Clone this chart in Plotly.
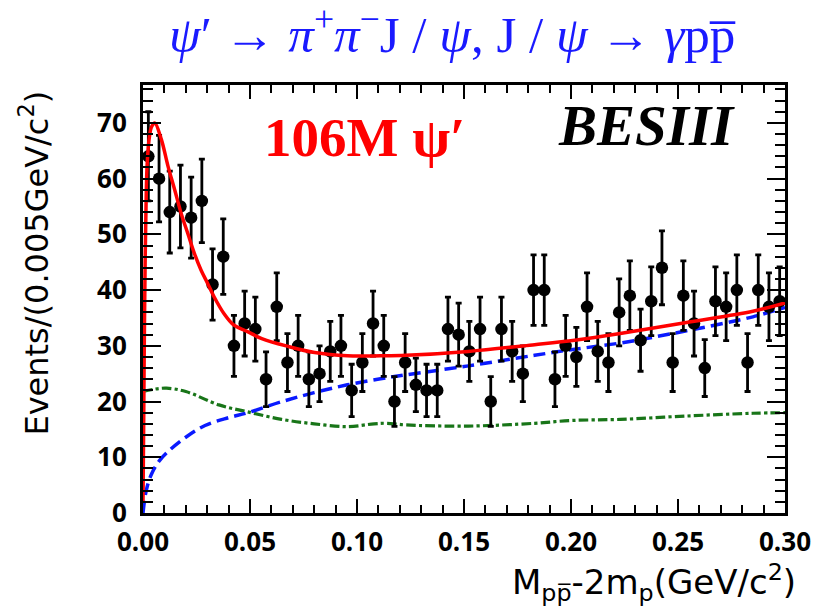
import numpy as np
import plotly.graph_objects as go

# Histogram: bin centres (GeV/c^2) and event counts per 0.005 GeV/c^2
bin_centers = [0.0025, 0.0075, 0.0125, 0.0175, 0.0225, 0.0275, 0.0325, 0.0375, 0.0425, 0.0475,
               0.0525, 0.0575, 0.0625, 0.0675, 0.0725, 0.0775, 0.0825, 0.0875, 0.0925, 0.0975,
               0.1025, 0.1075, 0.1125, 0.1175, 0.1225, 0.1275, 0.1325, 0.1375, 0.1425, 0.1475,
               0.1525, 0.1575, 0.1625, 0.1675, 0.1725, 0.1775, 0.1825, 0.1875, 0.1925, 0.1975,
               0.2025, 0.2075, 0.2125, 0.2175, 0.2225, 0.2275, 0.2325, 0.2375, 0.2425, 0.2475,
               0.2525, 0.2575, 0.2625, 0.2675, 0.2725, 0.2775, 0.2825, 0.2875, 0.2925, 0.2975]
counts = [64, 60, 54, 55, 53, 56, 41, 46, 30, 34,
          33, 24, 37, 27, 30, 24, 25, 29, 30, 22,
          27, 34, 30, 20, 27, 23, 22, 22, 33, 32,
          29, 33, 20, 33, 29, 25, 40, 40, 24, 30,
          28, 37, 29, 27, 36, 39, 31, 38, 44, 27,
          39, 34, 26, 38, 37, 40, 27, 40, 37, 38]

# Total fit (red)
fit_x = [0, 0.0003, 0.0006, 0.001, 0.0015, 0.002, 0.003, 0.004, 0.0055, 0.0086, 0.0117,
         0.0148, 0.0178, 0.0209, 0.024, 0.0271, 0.0302, 0.0332, 0.0378, 0.0425, 0.0486,
         0.0555, 0.0678, 0.0802, 0.0955, 0.111, 0.123, 0.152, 0.183, 0.2017, 0.223,
         0.254, 0.285, 0.30]
fit_y = [2, 15, 30, 45, 57, 63, 67.5, 69.3, 70, 67, 62.2,
         58, 53.8, 50.2, 46.6, 43.6, 41.2, 38.8, 35.8, 33.7, 32.6,
         31.3, 29.9, 28.8, 28.2, 28.2, 28.3, 29.0, 30.2, 31.0, 32.2,
         34.2, 36.2, 37.7]

# Phase-space-like background (blue dashed)
bkg_x = [0, 0.001, 0.002, 0.004, 0.0075, 0.0125, 0.02, 0.029, 0.04, 0.049, 0.065,
         0.08, 0.0955, 0.111, 0.123, 0.152, 0.183, 0.2, 0.223, 0.254, 0.285, 0.30]
bkg_y = [0, 3, 4.8, 7, 9.3, 11.3, 13.6, 15.7, 17.1, 18, 20,
         21.6, 23, 24.1, 24.8, 26.4, 28.3, 29.3, 30.5, 32.7, 35.2, 36.9]

# Other background component (green dash-dot)
oth_x = [0, 0.005, 0.011, 0.02, 0.0355, 0.0494, 0.0648, 0.08, 0.0955, 0.108, 0.114,
         0.123, 0.152, 0.183, 0.2, 0.223, 0.254, 0.285, 0.30]
oth_y = [21.8, 22.2, 22.4, 21.8, 19.4, 18.1, 16.8, 16.0, 15.5, 16.0, 16.1,
         15.8, 15.6, 16.1, 16.6, 16.8, 17.4, 17.9, 18.0]

x_ticks = [0.0, 0.05, 0.10, 0.15, 0.20, 0.25, 0.30]
x_tick_text = ["0.00", "0.05", "0.10", "0.15", "0.20", "0.25", "0.30"]
y_ticks = [0, 10, 20, 30, 40, 50, 60, 70]

fig = go.Figure()

fig.add_trace(go.Scatter(x=oth_x, y=oth_y, mode="lines", line_shape="spline",
                         line=dict(color="#187518", width=3.2, dash="dashdot"),
                         hoverinfo="skip"))
fig.add_trace(go.Scatter(x=bkg_x, y=bkg_y, mode="lines", line_shape="spline",
                         line=dict(color="#0a1aff", width=3.5, dash="12px,6px"),
                         hoverinfo="skip"))
fig.add_trace(go.Scatter(x=bin_centers, y=counts, mode="markers",
                         marker=dict(color="black", size=12.5),
                         error_y=dict(type="data", array=np.sqrt(counts), color="black",
                                      thickness=2.8, width=3)))
fig.add_trace(go.Scatter(x=fit_x, y=fit_y, mode="lines", line_shape="spline",
                         line=dict(color="#ff0000", width=3.5),
                         hoverinfo="skip"))

tick_font = dict(family="Open Sans", size=26, color="black", weight=700)

fig.update_xaxes(range=[0, 0.30], tickvals=x_ticks, ticktext=x_tick_text,
                 ticks="inside", ticklen=14, tickwidth=2, tickcolor="black",
                 minor=dict(dtick=0.01, ticks="inside", ticklen=8, tickwidth=2, tickcolor="black"),
                 showline=True, linewidth=3, linecolor="black", mirror="ticks",
                 showgrid=False, zeroline=False, tickfont=tick_font, ticklabelstandoff=4)
fig.update_yaxes(range=[0, 76.8], tickvals=y_ticks,
                 ticks="inside", ticklen=18, tickwidth=2, tickcolor="black",
                 minor=dict(dtick=2, ticks="inside", ticklen=10, tickwidth=2, tickcolor="black"),
                 showline=True, linewidth=3, linecolor="black", mirror="ticks",
                 showgrid=False, zeroline=False, tickfont=tick_font, ticklabelstandoff=8)

annotations = [
    dict(text="<i>ψ</i>′ → <i>π</i><sup>+</sup><i>π</i><sup>−</sup>J / <i>ψ</i>, J / <i>ψ</i> → <i>γ</i>pp\u0305",
         xref="paper", yref="paper", x=0.482, y=1.127, xanchor="center", yanchor="middle",
         showarrow=False, font=dict(family="Liberation Serif", size=51, color="#1a1aff")),
    dict(text="<b>106M ψ′</b>", xref="x", yref="y", x=0.1034, y=67.3,
         xanchor="center", yanchor="middle", showarrow=False,
         font=dict(family="Liberation Serif", size=55, color="#ff0000")),
    dict(text="<b><i>BESIII</i></b>", xref="x", yref="y", x=0.2355, y=69.5,
         xanchor="center", yanchor="middle", showarrow=False,
         font=dict(family="Liberation Serif", size=57, color="black")),
    dict(text="Events/(0.005GeV/c<sup>2</sup>)", xref="paper", yref="paper",
         x=-0.169, y=0.584, xanchor="center", yanchor="middle", textangle=-90,
         showarrow=False, font=dict(family="DejaVu Sans", size=32, color="black")),
    dict(text="M<sub>pp\u0305</sub>-2m<sub>p</sub>(GeV/c<sup>2</sup>)", xref="paper", yref="paper",
         x=1.02, y=-0.162, xanchor="right", yanchor="middle",
         showarrow=False, font=dict(family="DejaVu Sans", size=34, color="black")),
]

fig.update_layout(width=823, height=606, margin=dict(l=143, r=30, t=85, b=93),
                  paper_bgcolor="white", plot_bgcolor="white", showlegend=False,
                  annotations=annotations)

fig.write_html("out.html")
